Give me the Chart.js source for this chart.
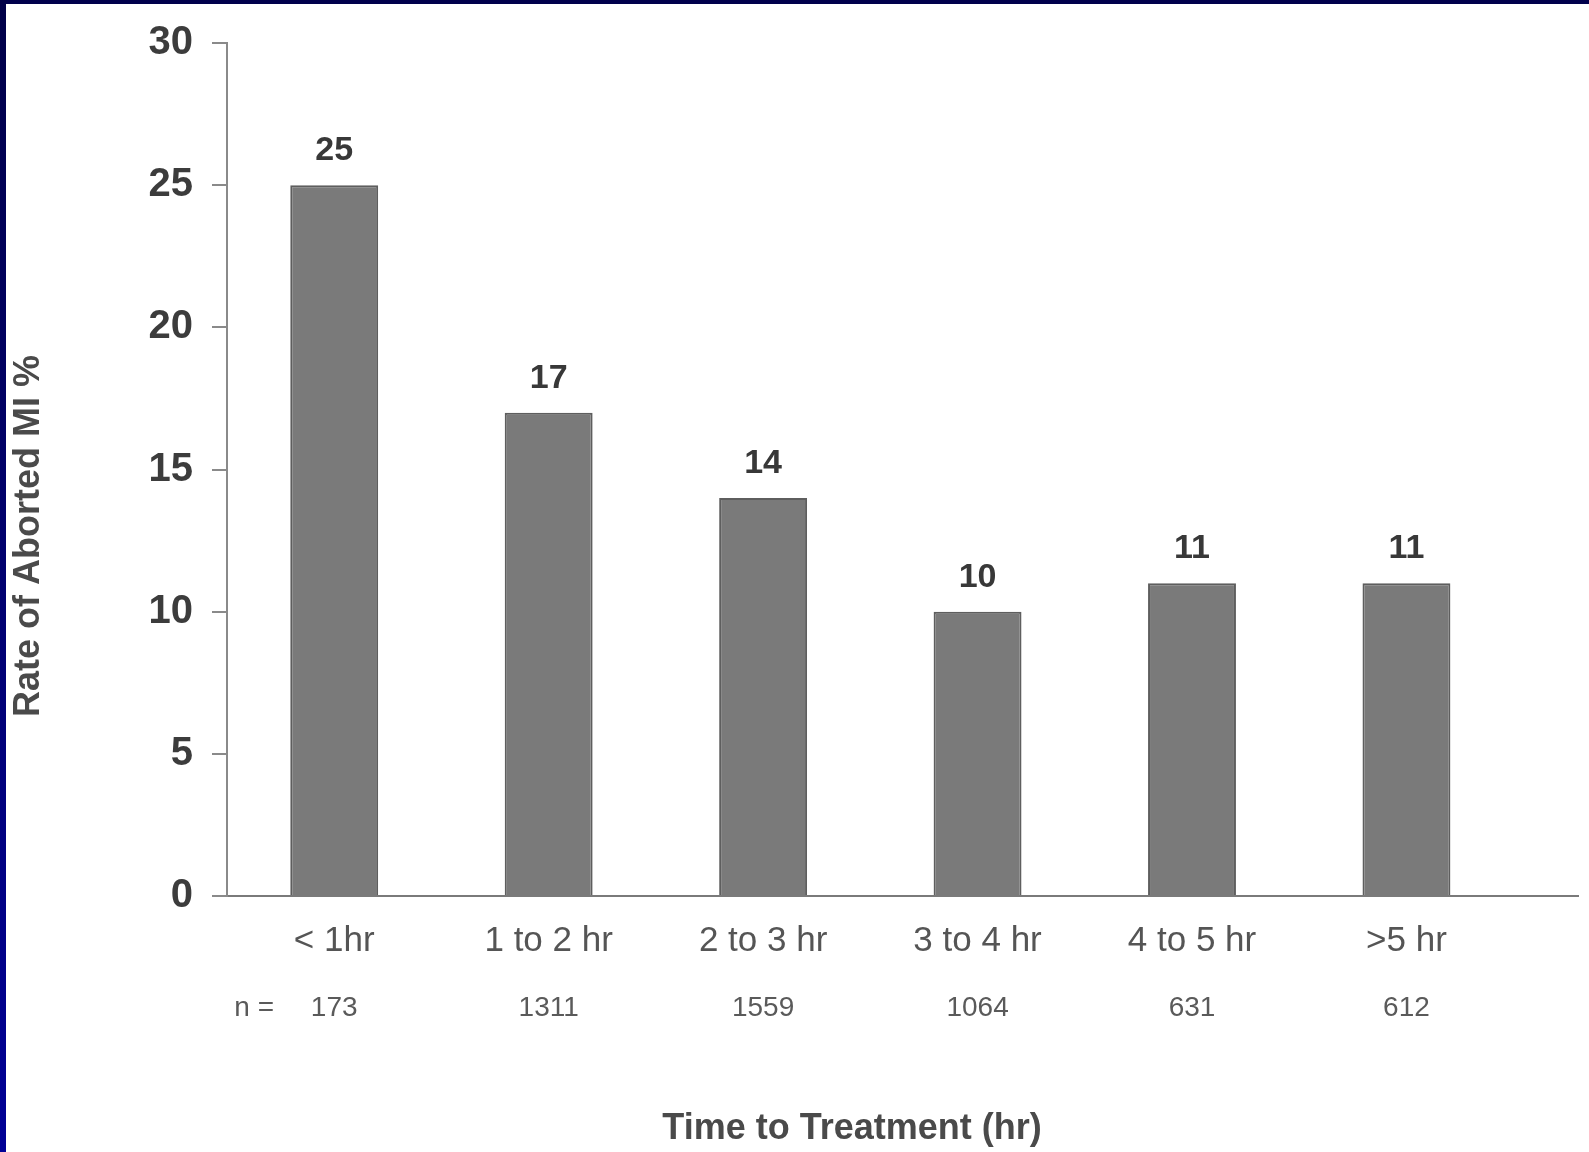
<!DOCTYPE html>
<html>
<head>
<meta charset="utf-8">
<script src="https://cdn.jsdelivr.net/npm/chart.js@4"></script>
<style>
  html, body { margin: 0; padding: 0; background: #fff; overflow: hidden; }
  #wrap { position: relative; width: 1589px; height: 1152px; }
  #chart { position: absolute; left: 0; top: 0; }
  .edge-top { position: absolute; left: 0; top: 0; width: 1589px; height: 4px; background: #00004c; }
  .edge-left { position: absolute; left: 0; top: 0; width: 6px; height: 1152px;
    background: linear-gradient(#000048, #000096); }
</style>
</head>
<body>
<div id="wrap">
  <canvas id="chart" width="1589" height="1152"></canvas>
  <div class="edge-top"></div>
  <div class="edge-left"></div>
</div>
<script>
const categories = ["< 1hr", "1 to 2 hr", "2 to 3 hr", "3 to 4 hr", "4 to 5 hr", ">5 hr"];
const abortedRates = [25, 17, 14, 10, 11, 11];
const sampleSizes = ["173", "1311", "1559", "1064", "631", "612"];
const yAxisTitle = "Rate of Aborted MI %";
const xAxisTitle = "Time to Treatment (hr)";

const plainFont = '"Liberation Sans", Arial, sans-serif';

// bars sit at half-steps so the baseline can run on past the last group
const xPositions = categories.map((c, i) => i + 0.5);
const placeTicks = scale => { scale.ticks = xPositions.map(v => ({ value: v })); };
const indexOf = value => Math.round(value - 0.5);

const captions = {
  id: "captions",
  afterDraw(chart) {
    const { ctx } = chart;
    const meta = chart.getDatasetMeta(0);
    ctx.save();

    // value above each bar
    ctx.fillStyle = "#383838";
    ctx.font = "bold 34px " + plainFont;
    ctx.textAlign = "center";
    ctx.textBaseline = "alphabetic";
    meta.data.forEach((bar, i) => ctx.fillText(String(abortedRates[i]), bar.x, bar.y - 25));

    // "n =" prefix ahead of the sample sizes
    const xn = chart.scales.xn;
    ctx.fillStyle = "#5a5a5a";
    ctx.font = "28px " + plainFont;
    ctx.textBaseline = "middle";
    ctx.fillText("n =", xn.getPixelForValue(xPositions[0]) - 80, xn.top + 25 + 17);

    // axis titles
    ctx.fillStyle = "#4a4a4a";
    ctx.font = "bold 36px " + plainFont;
    ctx.textBaseline = "alphabetic";
    ctx.fillText(xAxisTitle, 852, 1139);

    ctx.translate(29, 536);
    ctx.rotate(-Math.PI / 2);
    ctx.textBaseline = "middle";
    ctx.fillText(yAxisTitle, 0, 0);
    ctx.restore();
  }
};

new Chart(document.getElementById("chart"), {
  type: "bar",
  data: {
    datasets: [{
      data: abortedRates.map((v, i) => ({ x: xPositions[i], y: v })),
      backgroundColor: "#7a7a7a",
      borderColor: "#5e5e5e",
      borderWidth: 2,
      borderSkipped: "bottom",
      barPercentage: 0.41,
      categoryPercentage: 1
    }]
  },
  options: {
    responsive: false,
    animation: false,
    layout: { padding: { left: 0, top: 39, right: 11, bottom: 125 } },
    plugins: { legend: { display: false }, tooltip: { enabled: false } },
    scales: {
      x: {
        type: "linear",
        offset: false,
        min: 0,
        max: 6.3,
        afterBuildTicks: placeTicks,
        afterFit: scale => { scale.height = 70; },
        grid: { display: false, drawTicks: false },
        border: { display: true, color: "#7a7a7a", width: 2 },
        ticks: {
          autoSkip: false,
          maxRotation: 0,
          padding: 24,
          color: "#555",
          font: { family: plainFont, size: 35, lineHeight: 1.2 },
          callback: value => categories[indexOf(value)]
        }
      },
      xn: {
        type: "linear",
        position: "bottom",
        offset: false,
        min: 0,
        max: 6.3,
        afterBuildTicks: placeTicks,
        afterFit: scale => { scale.height = 61; },
        grid: { display: false, drawTicks: false },
        border: { display: false },
        ticks: {
          autoSkip: false,
          maxRotation: 0,
          padding: 25,
          color: "#5a5a5a",
          font: { family: plainFont, size: 28, lineHeight: 1.2 },
          callback: value => sampleSizes[indexOf(value)]
        }
      },
      y: {
        min: 0,
        max: 30,
        afterFit: scale => { scale.width = 227; },
        grid: { drawOnChartArea: false, drawTicks: true, tickLength: 15, color: "#8a8a8a", lineWidth: 2 },
        border: { display: true, color: "#8a8a8a", width: 2 },
        ticks: {
          stepSize: 5,
          padding: 19,
          color: "#3c3c3c",
          font: { family: plainFont, size: 40, weight: "bold" }
        }
      }
    }
  },
  plugins: [captions]
});
</script>
</body>
</html>
